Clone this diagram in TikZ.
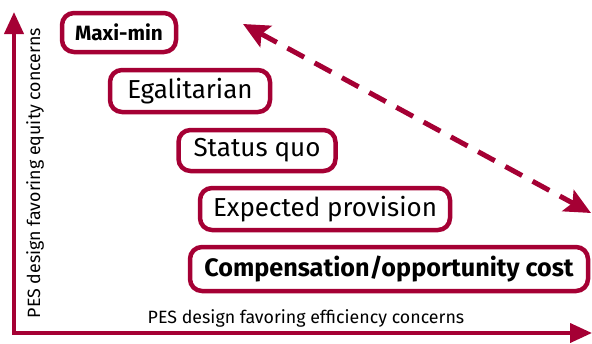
\documentclass[tikz,border=0pt]{standalone}
\usepackage{fontspec}
\setmainfont{Fira Sans}
\usetikzlibrary{arrows.meta}
\definecolor{crim}{RGB}{165,0,52}
\tikzset{
  box/.style={draw=crim, line width=4.5pt, rounded corners=12pt, inner sep=0pt, align=center},
  axis/.style={draw=crim, line width=4pt, {Triangle[length=22pt,width=19pt]}-{Triangle[length=22pt,width=19pt]}},
  dbl/.style={draw=crim, line width=5pt, dash pattern=on 19pt off 12pt, {Stealth[length=26pt,width=24pt,inset=5pt]}-{Stealth[length=26pt,width=24pt,inset=5pt]}},
  lab/.style={inner sep=0pt, font=\fontsize{17.8}{20}\selectfont}
}
\begin{document}
\begin{tikzpicture}[x=1pt,y=-1pt]
\useasboundingbox (0,0) rectangle (592,343);
\coordinate (ytip) at (14,12);
\coordinate (corner) at (14,333);
\coordinate (xtip) at (592,333);
\draw[axis] (ytip) -- (corner) -- (xtip);
\node[lab, rotate=90] (ylab) at (35,173) {PES design favoring equity concerns};
\node[lab] (xlab) at (306,318) {PES design favoring efficiency concerns};
\node[box, minimum width=114pt, minimum height=39pt, font=\bfseries\fontsize{20.7}{24}\selectfont] (mm) at (119,32.5) {Maxi-min};
\node[box, minimum width=160pt, minimum height=42pt, font=\fontsize{26}{30}\selectfont] (eg) at (190,91) {Egalitarian};
\node[box, minimum width=157pt, minimum height=41pt, font=\fontsize{26}{30}\selectfont] (sq) at (257,150.5) {Status quo};
\node[box, minimum width=250pt, minimum height=42pt, font=\fontsize{26}{30}\selectfont] (ep) at (325,209) {Expected provision};
\node[box, minimum width=398pt, minimum height=44pt, font=\bfseries\fontsize{25.2}{30}\selectfont] (cc) at (389,269) {Compensation/opportunity cost};
\coordinate (d1) at (243,24);
\coordinate (d2) at (591,213);
\draw[dbl] (d1) -- (d2);
\end{tikzpicture}
\end{document}
